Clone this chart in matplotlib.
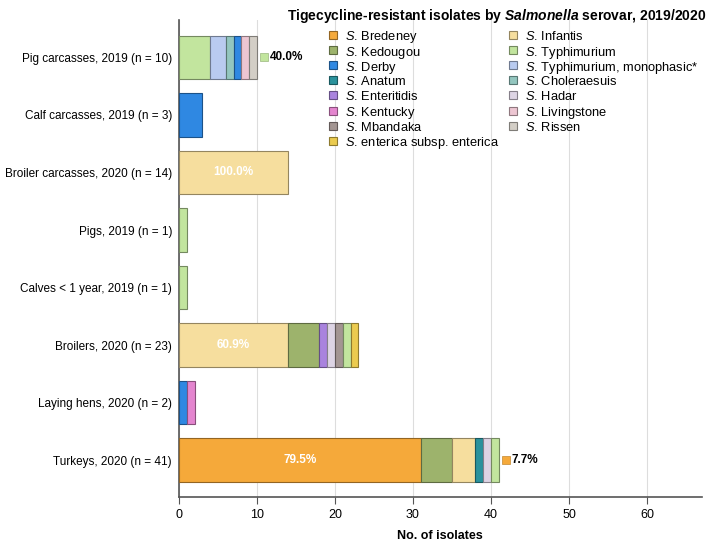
import matplotlib
matplotlib.use("Agg")
import matplotlib.pyplot as plt
import matplotlib.colors as mcolors
import matplotlib.transforms as mtransforms
from matplotlib.patches import Rectangle
import numpy as np

plt.rcParams['font.family'] = ['Liberation Sans', 'DejaVu Sans']
plt.rcParams['mathtext.fontset'] = 'custom'
plt.rcParams['mathtext.rm'] = 'Liberation Sans'
plt.rcParams['mathtext.it'] = 'Liberation Sans:italic'
plt.rcParams['mathtext.bf'] = 'Liberation Sans:bold'
plt.rcParams['mathtext.bfit'] = 'Liberation Sans:bold:italic'

# categories, top to bottom
categories = [
    "Pig carcasses, 2019 (n = 10)",
    "Calf carcasses, 2019 (n = 3)",
    "Broiler carcasses, 2020 (n = 14)",
    "Pigs, 2019 (n = 1)",
    "Calves < 1 year, 2019 (n = 1)",
    "Broilers, 2020 (n = 23)",
    "Laying hens, 2020 (n = 2)",
    "Turkeys, 2020 (n = 41)",
]

serovars = [
    "Bredeney", "Kedougou", "Derby", "Anatum", "Enteritidis", "Kentucky",
    "Mbandaka", "enterica subsp. enterica", "Infantis", "Typhimurium",
    "Typhimurium, monophasic*", "Choleraesuis", "Hadar", "Livingstone", "Rissen",
]

colors = [
    "#F5A93A", "#9DB36C", "#2F88E2", "#2A929C", "#A983DE", "#E485CF",
    "#A39592", "#EBCB4F", "#F6DE9E", "#C2E59E", "#B9CBF0", "#93C6BF",
    "#DDD4E4", "#EDC6D2", "#D3CEC6",
]

# stack order of segments per category: (serovar, count)
stacks = {
    "Pig carcasses, 2019 (n = 10)": [("Typhimurium", 4), ("Typhimurium, monophasic*", 2),
                                     ("Choleraesuis", 1), ("Derby", 1), ("Livingstone", 1), ("Rissen", 1)],
    "Calf carcasses, 2019 (n = 3)": [("Derby", 3)],
    "Broiler carcasses, 2020 (n = 14)": [("Infantis", 14)],
    "Pigs, 2019 (n = 1)": [("Typhimurium", 1)],
    "Calves < 1 year, 2019 (n = 1)": [("Typhimurium", 1)],
    "Broilers, 2020 (n = 23)": [("Infantis", 14), ("Kedougou", 4), ("Enteritidis", 1), ("Hadar", 1),
                                ("Mbandaka", 1), ("Typhimurium", 1), ("enterica subsp. enterica", 1)],
    "Laying hens, 2020 (n = 2)": [("Derby", 1), ("Kentucky", 1)],
    "Turkeys, 2020 (n = 41)": [("Bredeney", 31), ("Kedougou", 4), ("Infantis", 3), ("Anatum", 1),
                               ("Hadar", 1), ("Typhimurium", 1)],
}

# percentages printed inside the first segment
inside_labels = {
    "Broiler carcasses, 2020 (n = 14)": "100.0%",
    "Broilers, 2020 (n = 23)": "60.9%",
    "Turkeys, 2020 (n = 41)": "79.5%",
}
# percentages printed after the bar, with a colour key
outside_labels = {
    "Pig carcasses, 2019 (n = 10)": ("Typhimurium", "40.0%"),
    "Turkeys, 2020 (n = 41)": ("Bredeney", "7.7%"),
}

color_of = dict(zip(serovars, colors))


def darker(c, f=0.6):
    r, g, b = mcolors.to_rgb(c)
    return (r * f, g * f, b * f)


W, H = 709, 543
fig = plt.figure(figsize=(W / 100, H / 100), dpi=100)
ax = fig.add_axes([0.2525, 0.085, 0.737, 0.878])

n = len(categories)
ypos = {cat: n - 1 - i for i, cat in enumerate(categories)}
bar_h = 0.75

for cat in categories:
    left = 0
    y = ypos[cat]
    for sero, cnt in stacks[cat]:
        ax.barh(y, cnt, left=left, height=bar_h, color=color_of[sero],
                edgecolor=darker(color_of[sero]), linewidth=0.8, zorder=3)
        left += cnt
    if cat in inside_labels:
        first = stacks[cat][0][1]
        ax.text(first / 2, y, inside_labels[cat], ha="center", va="center",
                color="white", fontsize=8.5, fontweight="bold", zorder=4)
    if cat in outside_labels:
        sero, txt = outside_labels[cat]
        shift = mtransforms.ScaledTranslation(7 / 100, 0, fig.dpi_scale_trans)
        ax.plot([left], [y], marker="s", markersize=5.5, color=color_of[sero],
                markeredgecolor=darker(color_of[sero], 0.8), markeredgewidth=0.5,
                linestyle="none", zorder=4, clip_on=False,
                transform=ax.transData + shift)
        ax.annotate(txt, (left, y), xytext=(9.5, 0), textcoords="offset points",
                    ha="left", va="center", fontsize=8.5, fontweight="bold")

ax.set_xlim(0, 67)
ax.set_ylim(-0.64, n - 1 + 0.65)
ax.set_xticks(np.arange(0, 70, 10))
ax.set_yticks([ypos[c] for c in categories])
ax.set_yticklabels(categories, fontsize=8.5)
ax.tick_params(axis="x", labelsize=9, length=5, color="#555555", direction="out")
ax.tick_params(axis="y", length=0, pad=5)
ax.grid(axis="x", color="#dddddd", linewidth=0.8, zorder=0)
ax.set_axisbelow(True)
for s in ["top", "right"]:
    ax.spines[s].set_visible(False)
for s in ["left", "bottom"]:
    ax.spines[s].set_color("#555555")
    ax.spines[s].set_linewidth(1.2)

ax.set_xlabel("No. of isolates", fontsize=9, fontweight="bold", labelpad=7)

# legend: two columns drawn at fixed pixel positions
col_x = [333, 513]
row_y0, row_dy = 35, 15.1
for i, (sero, c) in enumerate(zip(serovars, colors)):
    col = 0 if i < 8 else 1
    row = i if i < 8 else i - 8
    cx = col_x[col]
    cy = row_y0 + row * row_dy
    fig.patches.append(Rectangle(((cx - 4) / W, 1 - (cy + 4) / H), 8 / W, 8 / H,
                                 transform=fig.transFigure, facecolor=c,
                                 edgecolor=darker(c), linewidth=0.8))
    fig.text((cx + 12) / W, 1 - cy / H, r"$\mathit{S}$. " + sero,
             ha="left", va="center_baseline", fontsize=9.3)

fig.text(0.996, 0.988, r"Tigecycline-resistant isolates by $\mathbfit{Salmonella}$ serovar, 2019/2020",
         ha="right", va="top", fontsize=10, fontweight="bold")

fig.savefig("out.png", dpi=100)
